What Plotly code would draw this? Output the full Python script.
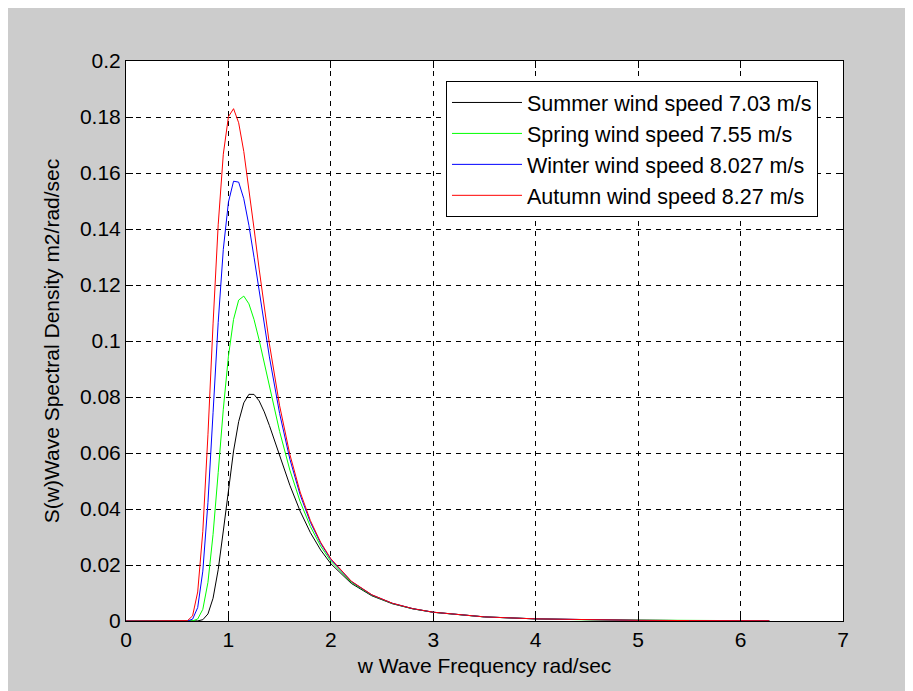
import plotly.graph_objects as go

# Wave frequency (rad/sec)
w = [0, 0.4, 0.5, 0.6, 0.65, 0.7, 0.75, 0.8, 0.85, 0.9, 0.95, 1.0, 1.05, 1.1, 1.15,
     1.2, 1.25, 1.3, 1.35, 1.4, 1.5, 1.6, 1.7, 1.8, 1.9, 2.0, 2.2, 2.4, 2.6, 2.8,
     3.0, 3.5, 4.0, 4.5, 5.0, 5.5, 6.0, 6.28]

summer = [0, 0, 0, 0, 0.000001, 0.00004, 0.00046, 0.00252, 0.00813, 0.01833, 0.03214,
          0.04712, 0.06072, 0.07121, 0.07791, 0.08095, 0.08093, 0.07860, 0.07469, 0.06982,
          0.05897, 0.04845, 0.03924, 0.03158, 0.02538, 0.02044, 0.01342, 0.00900, 0.00617,
          0.00433, 0.00310, 0.00146, 0.00075, 0.00042, 0.00025, 0.000154, 0.000100, 0.00008]

spring = [0, 0, 0, 0.000001, 0.00005, 0.00071, 0.00418, 0.01380, 0.03090, 0.05302, 0.07561,
          0.09458, 0.10772, 0.11461, 0.11604, 0.11328, 0.10766, 0.10032, 0.09212, 0.08370,
          0.06768, 0.05388, 0.04265, 0.03375, 0.02678, 0.02135, 0.01382, 0.00919, 0.00626,
          0.00438, 0.00313, 0.00146, 0.00076, 0.00042, 0.00025, 0.000155, 0.000100, 0.00008]

winter = [0, 0, 0, 0.00003, 0.00065, 0.00479, 0.01781, 0.04227, 0.07436, 0.10663, 0.13273,
          0.14959, 0.15706, 0.15674, 0.15081, 0.14131, 0.12990, 0.11778, 0.10576, 0.09431,
          0.07409, 0.05779, 0.04506, 0.03525, 0.02774, 0.02197, 0.01410, 0.00931, 0.00633,
          0.00441, 0.00314, 0.00147, 0.00076, 0.00042, 0.00025, 0.000155, 0.000100, 0.00008]

autumn = [0, 0, 0, 0.00012, 0.00183, 0.01037, 0.03202, 0.06650, 0.10610, 0.14150, 0.16671,
          0.18009, 0.18297, 0.17794, 0.16769, 0.15454, 0.14016, 0.12569, 0.11183, 0.09898,
          0.07686, 0.05945, 0.04607, 0.03588, 0.02813, 0.02223, 0.01421, 0.00937, 0.00635,
          0.00442, 0.00315, 0.00147, 0.00076, 0.00042, 0.00025, 0.000155, 0.000100, 0.00008]

series_names = ["Summer wind speed 7.03 m/s", "Spring wind speed 7.55 m/s",
                "Winter wind speed 8.027 m/s", "Autumn wind speed 8.27 m/s"]
series_values = [summer, spring, winter, autumn]
series_colors = ["#000000", "#00ff00", "#0000ff", "#ff0000"]

FONT = "Liberation Sans, Arial, sans-serif"

fig = go.Figure()
for name, vals, col in zip(series_names, series_values, series_colors):
    fig.add_trace(go.Scatter(x=w, y=vals, mode="lines", name=name,
                             line=dict(color=col, width=1)))

axis_common = dict(
    showline=True, linecolor="black", linewidth=1, mirror="ticks",
    ticks="inside", ticklen=7, tickcolor="black", tickwidth=1,
    showgrid=True, gridcolor="black", gridwidth=1, griddash="5px,5px",
    zeroline=False, tickfont=dict(family=FONT, size=21, color="black"),
)

fig.update_xaxes(range=[0, 7], dtick=1, tick0=0,
                 title=dict(text="w Wave Frequency rad/sec",
                            font=dict(family=FONT, size=21, color="black"), standoff=8),
                 **axis_common)
fig.update_yaxes(range=[0, 0.2], dtick=0.02, tick0=0,
                 title=dict(text="S(w)Wave Spectral Density m2/rad/sec",
                            font=dict(family=FONT, size=21, color="black"), standoff=14),
                 **axis_common)

fig.update_layout(
    width=905, height=683,
    margin=dict(l=118, r=70, t=53, b=70),
    paper_bgcolor="#cccccc", plot_bgcolor="white",
    font=dict(family=FONT, size=21, color="black"),
    showlegend=True,
    legend=dict(x=0.4463, y=0.9643, xanchor="left", yanchor="top",
                bgcolor="white", bordercolor="black", borderwidth=1,
                font=dict(family=FONT, size=21.5, color="black"),
                itemwidth=70, tracegroupgap=0),
)

fig.write_html("out.html")
